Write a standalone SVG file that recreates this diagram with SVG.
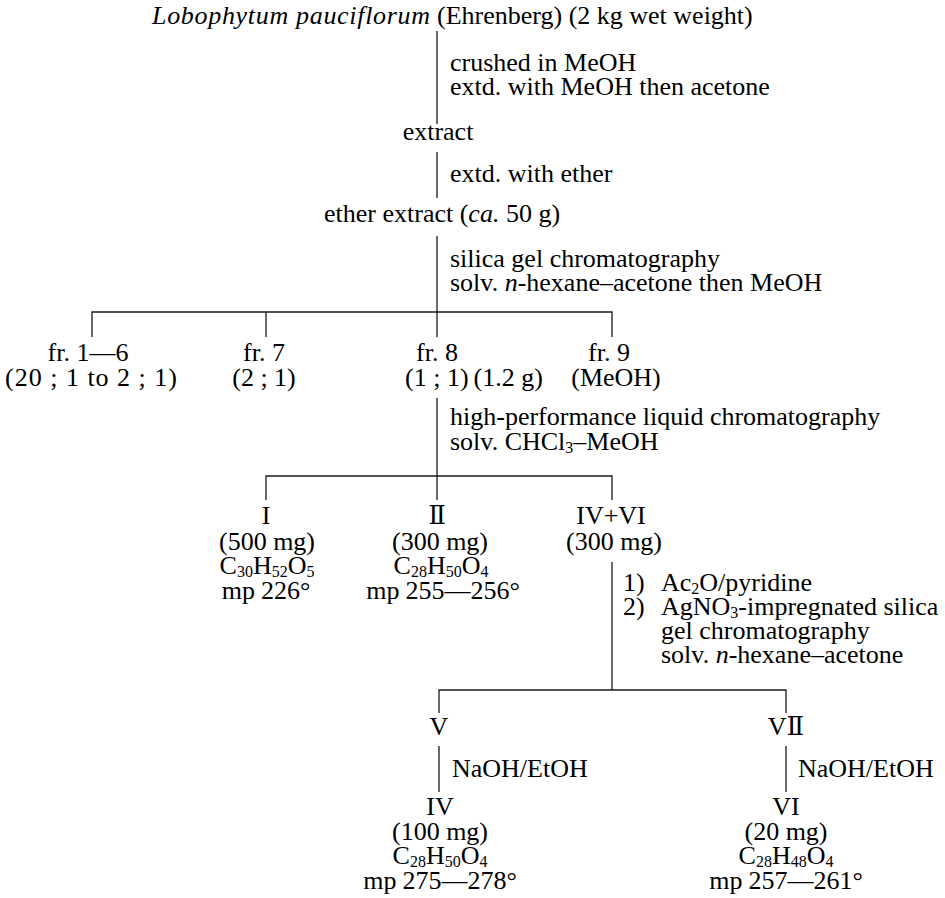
<svg xmlns="http://www.w3.org/2000/svg" width="945" height="898" viewBox="0 0 945 898">
<style>
.t{font-family:"Liberation Serif","DejaVu Serif","Noto Sans CJK JP",serif;font-size:26px;fill:#000}
.m{text-anchor:middle}
.i{font-style:italic}
.s{font-size:16px}
.ln{stroke:#1a1a1a;stroke-width:1.3;fill:none}
</style>
<rect width="945" height="898" fill="#fff"/>
<g id="connectors">
<line class="ln" x1="437" y1="31" x2="437" y2="124"/>
<line class="ln" x1="437" y1="152" x2="437" y2="198"/>
<line class="ln" x1="437" y1="236" x2="437" y2="312"/>
<polyline class="ln" points="92,337 92,312 612,312 612,337"/>
<line class="ln" x1="266" y1="312" x2="266" y2="337"/>
<line class="ln" x1="437" y1="312" x2="437" y2="337"/>
<line class="ln" x1="437" y1="398" x2="437" y2="476"/>
<polyline class="ln" points="266,500 266,476 612,476 612,500"/>
<line class="ln" x1="437" y1="476" x2="437" y2="500"/>
<line class="ln" x1="612" y1="562" x2="612" y2="690"/>
<polyline class="ln" points="439,713 439,690 786,690 786,713"/>
<line class="ln" x1="439" y1="746" x2="439" y2="792"/>
<line class="ln" x1="786" y1="746" x2="786" y2="792"/>
</g>
<g id="edge-labels">
<text class="t" x="450" y="71">crushed in MeOH</text>
<text class="t" x="450" y="95">extd. with MeOH then acetone</text>
<text class="t" x="450" y="182">extd. with ether</text>
<text class="t" x="450" y="267">silica gel chromatography</text>
<text class="t" x="450" y="291">solv. <tspan class="i">n</tspan>-hexane–acetone then MeOH</text>
<text class="t" x="450" y="425">high-performance liquid chromatography</text>
<text class="t" x="450" y="450">solv. CHCl<tspan class="s" dy="3">3</tspan><tspan dy="-3">–MeOH</tspan></text>
<text class="t" x="623" y="591">1)<tspan x="661">Ac</tspan><tspan class="s" dy="3">2</tspan><tspan dy="-3">O/pyridine</tspan></text>
<text class="t" x="623" y="615">2)<tspan x="661">AgNO</tspan><tspan class="s" dy="3">3</tspan><tspan dy="-3">-impregnated silica</tspan></text>
<text class="t" x="661" y="639">gel chromatography</text>
<text class="t" x="661" y="663">solv. <tspan class="i">n</tspan>-hexane–acetone</text>
<text class="t" x="452" y="777">NaOH/EtOH</text>
<text class="t" x="798" y="777">NaOH/EtOH</text>
</g>
<g id="n-source">
<text class="t i" x="152" y="24" textLength="278" lengthAdjust="spacing">Lobophytum pauciflorum</text>
<text class="t" x="437" y="24">(Ehrenberg) (2 kg wet weight)</text>
</g>
<g id="n-extract"><text class="t m" x="438" y="140">extract</text></g>
<g id="n-ether"><text class="t" x="324" y="222">ether extract (<tspan class="i">ca.</tspan> 50 g)</text></g>
<g id="n-fr1-6">
<text class="t m" x="88" y="361">fr. 1—6</text>
<text class="t m" x="91" y="386" textLength="172" lengthAdjust="spacing">(20 ; 1 to 2 ; 1)</text>
</g>
<g id="n-fr7">
<text class="t m" x="264" y="361">fr. 7</text>
<text class="t m" x="264" y="386">(2 ; 1)</text>
</g>
<g id="n-fr8">
<text class="t m" x="437" y="361">fr. 8</text>
<text class="t" x="405" y="386">(1 ; 1)<tspan dx="5">(1.2 g)</tspan></text>
</g>
<g id="n-fr9">
<text class="t m" x="609" y="361">fr. 9</text>
<text class="t m" x="616" y="386">(MeOH)</text>
</g>
<g id="n-I">
<text class="t m" x="266" y="524">I</text>
<text class="t m" x="267" y="550">(500 mg)</text>
<text class="t m" x="267" y="574">C<tspan class="s" dy="3">30</tspan><tspan dy="-3">H</tspan><tspan class="s" dy="3">52</tspan><tspan dy="-3">O</tspan><tspan class="s" dy="3">5</tspan></text>
<text class="t m" x="266" y="599">mp<tspan dx="6">226°</tspan></text>
</g>
<g id="n-II">
<text class="t m" x="437" y="524">Ⅱ</text>
<text class="t m" x="440" y="550">(300 mg)</text>
<text class="t m" x="441" y="574">C<tspan class="s" dy="3">28</tspan><tspan dy="-3">H</tspan><tspan class="s" dy="3">50</tspan><tspan dy="-3">O</tspan><tspan class="s" dy="3">4</tspan></text>
<text class="t m" x="443" y="599">mp<tspan dx="6">255—256°</tspan></text>
</g>
<g id="n-IV-VI">
<text class="t m" x="611" y="524">IV+VI</text>
<text class="t m" x="614" y="550">(300 mg)</text>
</g>
<g id="n-V"><text class="t m" x="439" y="735">V</text></g>
<g id="n-VII"><text class="t m" x="786" y="735">VⅡ</text></g>
<g id="n-IV">
<text class="t m" x="440" y="815">IV</text>
<text class="t m" x="440" y="840">(100 mg)</text>
<text class="t m" x="440" y="864">C<tspan class="s" dy="3">28</tspan><tspan dy="-3">H</tspan><tspan class="s" dy="3">50</tspan><tspan dy="-3">O</tspan><tspan class="s" dy="3">4</tspan></text>
<text class="t m" x="440" y="889">mp<tspan dx="6">275—278°</tspan></text>
</g>
<g id="n-VI">
<text class="t m" x="786" y="815">VI</text>
<text class="t m" x="786" y="840">(20 mg)</text>
<text class="t m" x="786" y="864">C<tspan class="s" dy="3">28</tspan><tspan dy="-3">H</tspan><tspan class="s" dy="3">48</tspan><tspan dy="-3">O</tspan><tspan class="s" dy="3">4</tspan></text>
<text class="t m" x="786" y="889">mp<tspan dx="6">257—261°</tspan></text>
</g>
</svg>
